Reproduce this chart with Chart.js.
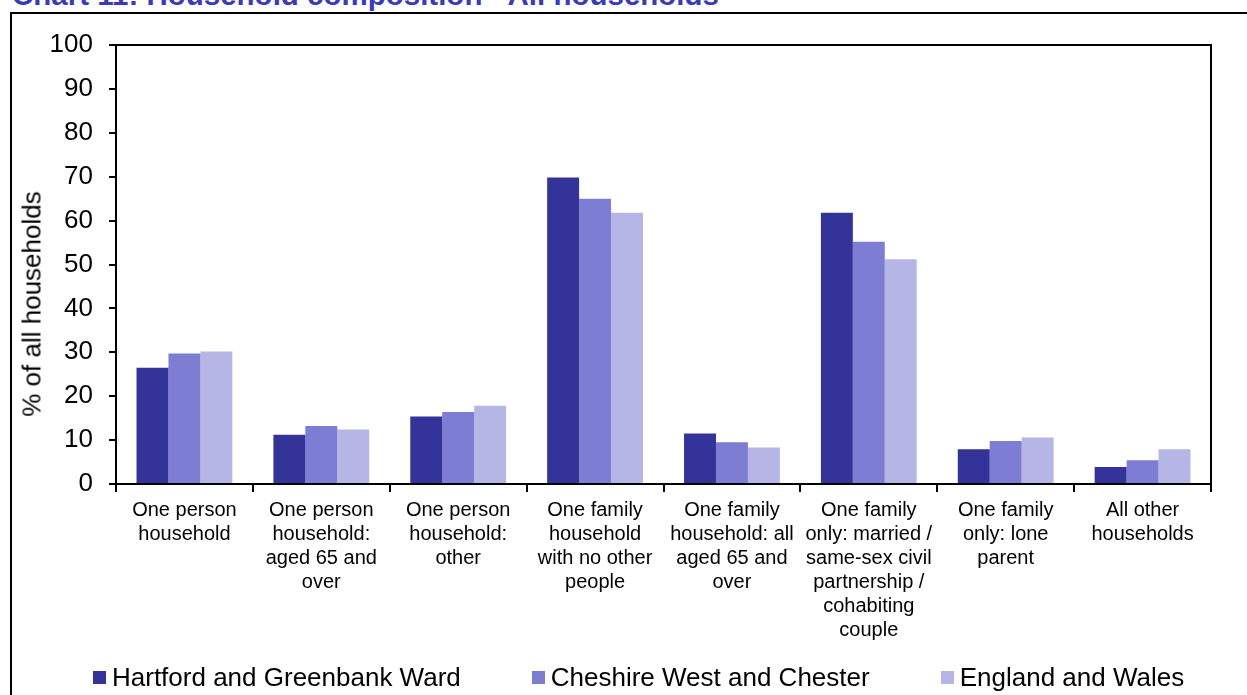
<!DOCTYPE html>
<html>
<head>
<meta charset="utf-8">
<script src="https://cdn.jsdelivr.net/npm/chart.js@4"></script>
<style>
  html, body { margin: 0; padding: 0; background: #fff; overflow: hidden; }
  body { width: 1247px; height: 695px; position: relative; font-family: "Liberation Sans", Arial, sans-serif; }
  #frame { position: absolute; left: 10px; top: 12px; width: 1260px; height: 720px; border: 2px solid #000; box-sizing: border-box; }
  #title { position: absolute; left: 12px; top: -22px; font-size: 29.5px; font-weight: bold; color: #3b3bb8; white-space: nowrap; line-height: 33px; }
  #ytitle { position: absolute; left: 32px; top: 304px; font-size: 26px; white-space: nowrap; transform: translate(-50%, -50%) rotate(-90deg); }
  #chart { position: absolute; left: 0; top: 0; }
  #legend { position: absolute; left: 93px; top: 662px; display: flex; gap: 71px; font-size: 26px; line-height: 30px; }
  #legend .item { display: flex; align-items: center; white-space: nowrap; }
  #legend .box { width: 13px; height: 13px; margin-right: 6px; }
</style>
</head>
<body>
<div id="frame"></div>
<div id="title">Chart 11: Household composition - All households</div>
<canvas id="chart" width="1247" height="695"></canvas>
<div id="ytitle">% of all households</div>
<div id="legend"></div>
<script>
// --- data ---
const categories = [
    ['One person', 'household'],
    ['One person', 'household:', 'aged 65 and', 'over'],
    ['One person', 'household:', 'other'],
    ['One family', 'household', 'with no other', 'people'],
    ['One family', 'household: all', 'aged 65 and', 'over'],
    ['One family', 'only: married /', 'same-sex civil', 'partnership /', 'cohabiting', 'couple'],
    ['One family', 'only: lone', 'parent'],
    ['All other', 'households']
];
const seriesNames = ['Hartford and Greenbank Ward', 'Cheshire West and Chester', 'England and Wales'];
const hartford = [26.5, 11.2, 15.4, 69.8, 11.5, 61.8, 7.9, 3.9];
const cheshire = [29.7, 13.2, 16.4, 65.0, 9.5, 55.2, 9.8, 5.4];
const englandWales = [30.2, 12.4, 17.8, 61.8, 8.3, 51.2, 10.6, 7.9];
const yTicks = [0, 10, 20, 30, 40, 50, 60, 70, 80, 90, 100];

const colours = ['#333399', '#7d7dd4', '#b6b6e6'];
const FONT = '"Liberation Sans", Arial, sans-serif';

// frame round the plot area
const plotFrame = {
    id: 'plotFrame',
    afterDraw(chart) {
        const a = chart.chartArea;
        const c = chart.ctx;
        c.save();
        c.strokeStyle = '#000';
        c.lineWidth = 2;
        c.strokeRect(a.left, a.top, a.right - a.left, a.bottom - a.top);
        c.restore();
    }
};

document.addEventListener('DOMContentLoaded', function () {
    const ctx = document.getElementById('chart');
    const seriesData = [hartford, cheshire, englandWales];

    const chart = new Chart(ctx, {
        type: 'bar',
        data: {
            labels: categories,
            datasets: seriesNames.map((name, i) => ({
                label: name,
                data: seriesData[i],
                backgroundColor: colours[i],
                borderWidth: 0,
                categoryPercentage: 0.7,
                barPercentage: 1.0
            }))
        },
        options: {
            responsive: false,
            animation: false,
            layout: { padding: { top: 45, right: 36, left: 0, bottom: 0 } },
            plugins: {
                legend: { display: false },
                tooltip: { enabled: false }
            },
            scales: {
                x: {
                    grid: { offset: true, drawOnChartArea: false, color: '#000', tickLength: 8, lineWidth: 2 },
                    border: { color: '#000', width: 2 },
                    ticks: {
                        color: '#000',
                        font: { family: FONT, size: 20 },
                        lineHeight: 1.22,
                        padding: 6,
                        maxRotation: 0,
                        autoSkip: false
                    },
                    afterFit: s => { s.height = 695 - 484; }
                },
                y: {
                    min: 0,
                    max: 100,
                    afterBuildTicks: s => { s.ticks = yTicks.map(v => ({ value: v })); },
                    grid: { drawOnChartArea: false, color: '#000', tickLength: 7, lineWidth: 2 },
                    border: { color: '#000', width: 2 },
                    ticks: {
                        color: '#000',
                        font: { family: FONT, size: 26 },
                        padding: 16
                    },
                    afterFit: s => { s.width = 116; }
                }
            }
        },
        plugins: [plotFrame]
    });

    // --- legend ---
    const legend = document.getElementById('legend');
    chart.data.datasets.forEach(ds => {
        const item = document.createElement('div');
        item.className = 'item';
        const box = document.createElement('span');
        box.className = 'box';
        box.style.background = ds.backgroundColor;
        const txt = document.createElement('span');
        txt.textContent = ds.label;
        item.appendChild(box);
        item.appendChild(txt);
        legend.appendChild(item);
    });
});
</script>
</body>
</html>
